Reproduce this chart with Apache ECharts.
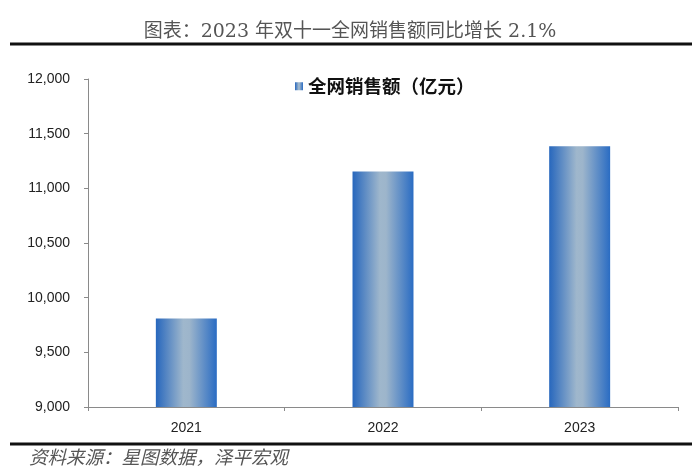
<!DOCTYPE html>
<html>
<head>
    <meta charset="UTF-8" />
    <title>双十一全网销售额</title>
    <script src="https://cdn.jsdelivr.net/npm/echarts@6/dist/echarts.min.js"></script>
    <style>
        html, body { margin: 0; padding: 0; background: #fff; }
        #main { width: 700px; height: 470px; }
    </style>
</head>
<body>
<div id="main"></div>
<script>
var years = ['2021', '2022', '2023'];
var sales = [9810, 11154, 11386];   // 全网销售额（亿元）
var seriesName = '全网销售额（亿元）';

var chart = echarts.init(document.getElementById('main'));

// horizontal "cylinder" look: dark blue edges, pale centre
var barFill = new echarts.graphic.LinearGradient(0, 0, 1, 0, [
    { offset: 0, color: '#2767bd' },
    { offset: 0.45, color: '#9fb7cc' },
    { offset: 0.55, color: '#9db5cb' },
    { offset: 1, color: '#2a6cc3' }
]);

var option = {
    backgroundColor: '#fff',
    animation: false,
    title: [{
        text: '图表：2023 年双十一全网销售额同比增长 2.1%',
        left: 'center',
        top: 18,
        textStyle: {
            fontFamily: 'DejaVu Serif, Noto Sans CJK SC',
            fontSize: 19,
            fontWeight: 'normal',
            color: '#555'
        }
    }, {
        text: '资料来源：星图数据，泽平宏观',
        left: 24,
        top: 443,
        textStyle: {
            fontFamily: 'Noto Sans CJK SC',
            fontSize: 18.5,
            fontStyle: 'italic',
            fontWeight: 'normal',
            color: '#555'
        }
    }],
    legend: {
        data: [{ name: seriesName, icon: 'rect' }],
        left: 290,
        top: 72,
        itemWidth: 8,
        itemHeight: 8,
        itemGap: 4,
        textStyle: {
            fontFamily: 'Noto Sans CJK SC',
            fontSize: 18.5,
            fontWeight: 'bold',
            color: '#111'
        }
    },
    grid: { left: 88, right: 22, top: 79, bottom: 63 },
    xAxis: {
        type: 'category',
        data: years,
        axisLine: { lineStyle: { color: '#8a8a8a', width: 1 } },
        axisTick: { show: true, length: 4, lineStyle: { color: '#8a8a8a' } },
        axisLabel: {
            margin: 14,
            fontFamily: 'Liberation Sans',
            fontSize: 14,
            color: '#222'
        }
    },
    yAxis: {
        type: 'value',
        min: 9000,
        max: 12000,
        interval: 500,
        axisLine: { show: true, lineStyle: { color: '#8a8a8a', width: 1 } },
        axisTick: { show: true, length: 4, lineStyle: { color: '#8a8a8a' } },
        splitLine: { show: false },
        axisLabel: {
            margin: 18,
            fontFamily: 'Liberation Sans',
            fontSize: 14,
            color: '#222',
            formatter: function (v) {
                return String(v).replace(/\B(?=(\d{3})+(?!\d))/g, ',');
            }
        }
    },
    series: [{
        name: seriesName,
        type: 'bar',
        data: sales,
        barWidth: '31%',
        itemStyle: { color: barFill }
    }],
    graphic: [
        {
            type: 'line',
            shape: { x1: 10, y1: 44, x2: 692, y2: 44 },
            style: { stroke: '#111', lineWidth: 3 }
        },
        {
            type: 'line',
            shape: { x1: 10, y1: 444, x2: 692, y2: 444 },
            style: { stroke: '#111', lineWidth: 3 }
        }
    ]
};

chart.setOption(option);
</script>
</body>
</html>
